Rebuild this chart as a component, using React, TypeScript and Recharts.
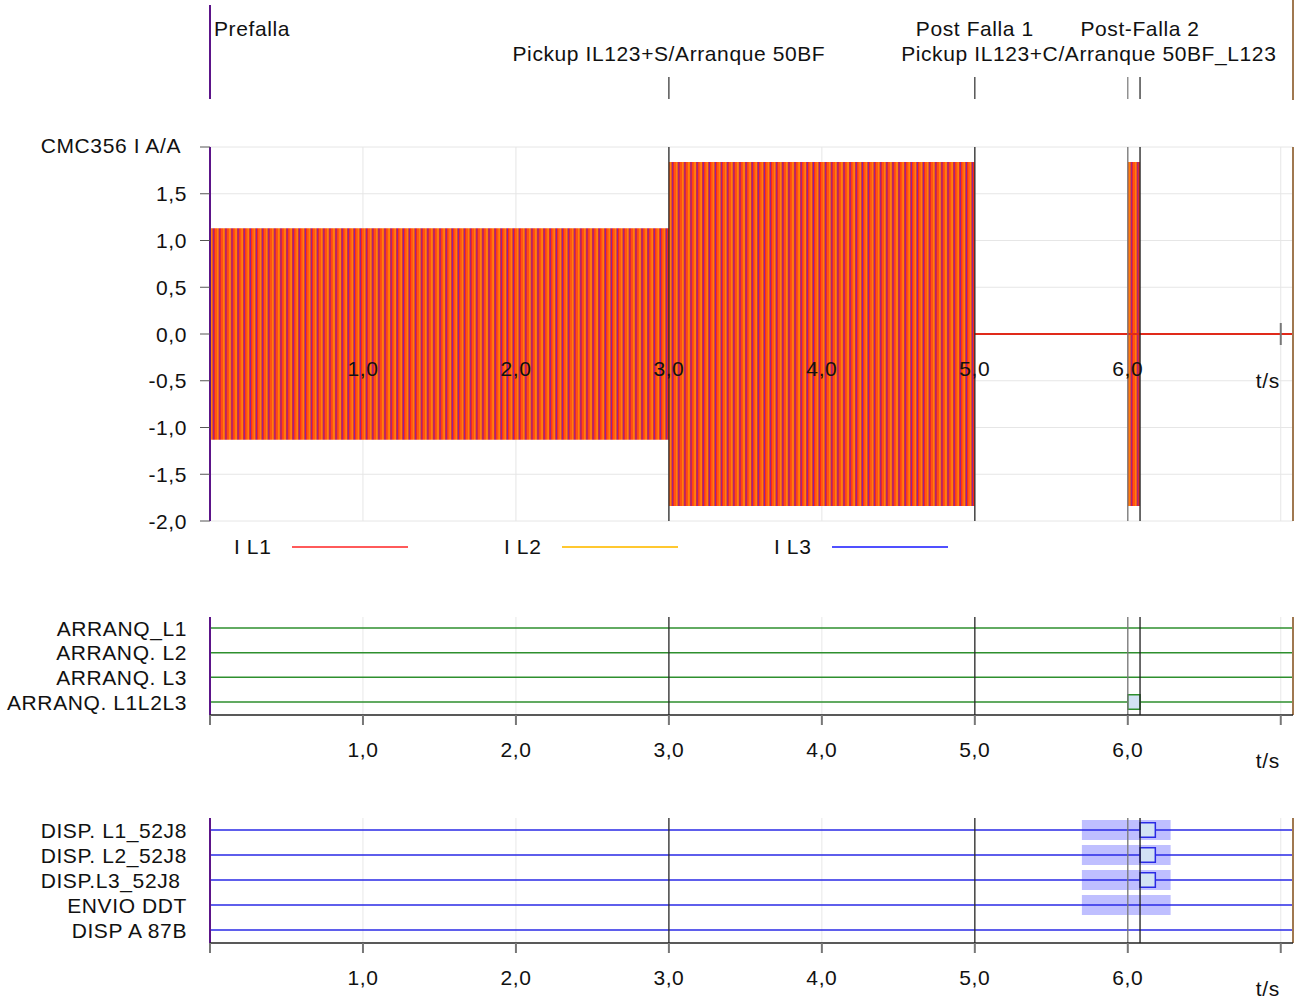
import React from 'react'
import {
  ComposedChart,
  Area,
  Line,
  XAxis,
  YAxis,
  CartesianGrid,
  ReferenceLine,
  ReferenceArea,
  ReferenceDot,
} from 'recharts'

const FONT = '"Liberation Sans", Arial, Helvetica, sans-serif'
const FS = 21
const LS = 0.6
const W = 1296

// time axis (s)
const T_MAX = 7.08
const timeTicks = [0, 1, 2, 3, 4, 5, 6, 7]

// event markers
const markerTimes = [0, 3.0, 5.0, 6.0, 6.08]
const markerTitles = [
  'Prefalla',
  'Pickup IL123+S/Arranque 50BF',
  'Post Falla 1',
  'Pickup IL123+C/Arranque 50BF_L123',
  'Post-Falla 2',
]
const markerRow = [0, 1, 0, 1, 0]

// CMC356 current: peak value (A) from each segment start
const envTimes = [0, 3.0, 5.0, 6.0, 6.08, 7.08]
const envPeak = [1.13, 1.84, 0, 1.84, 0, 0]
const postCurrent = [null, null, 0, 0, 0, 0]
const mainTicks = [-2, -1.5, -1, -0.5, 0, 0.5, 1, 1.5, 2]

const phaseNames = ['I L1', 'I L2', 'I L3']

// binary channels
const arranqNames = ['ARRANQ_L1', 'ARRANQ. L2', 'ARRANQ. L3', 'ARRANQ. L1L2L3']
const arranqPulses: number[][][] = [[], [], [], [[6.0, 6.08]]]

const dispNames = ['DISP. L1_52J8', 'DISP. L2_52J8', 'DISP.L3_52J8\u00a0', 'ENVIO DDT', 'DISP A 87B']
const dispPulses: number[][][] = [[[6.08, 6.18]], [[6.08, 6.18]], [[6.08, 6.18]], [], []]
const dispWindows: number[][][] = [[[5.7, 6.28]], [[5.7, 6.28]], [[5.7, 6.28]], [[5.7, 6.28]], []]

const PURPLE = '#5c1489'
const BROWN = '#a07850'
const markerColor = [PURPLE, '#2b2b2b', '#2b2b2b', '#777777', '#1e1e1e']
const phaseColor = ['#ff5a5a', '#ffc830', '#5050ff']
const phaseLine = ['#e02a1a', '#ffc400', '#3030ff']

const fmt = (v: number) => v.toFixed(1).replace('.', ',')

const txt = { fontSize: FS, fill: '#111', fontFamily: FONT, letterSpacing: LS }

function HeaderRow() {
  // header row: y 0..1 spans the 100 px strip, markers sit at its bottom
  const data = markerTimes.map(t => ({ t, base: 0 }))
  const dx = [4, 0, 0, -39, 0]
  return (
    <ComposedChart width={W} height={100} data={data} margin={{ top: 0, right: 3, bottom: 0, left: 210 }}>
      <XAxis dataKey="t" type="number" domain={[0, T_MAX]} hide />
      <YAxis type="number" domain={[0, 1]} hide />
      <Line dataKey="base" stroke="none" dot={false} isAnimationActive={false} />
      {markerTimes.map((t, i) => (
        <ReferenceLine
          key={'m' + i}
          segment={[{ x: t, y: i === 0 ? 0.95 : 0.23 }, { x: t, y: 0.01 }]}
          stroke={markerColor[i]}
          strokeWidth={i === 0 ? 2 : 1.2}
        />
      ))}
      <ReferenceLine x={T_MAX} stroke={BROWN} strokeWidth={2} />
      {markerTimes.map((t, i) => (
        <ReferenceDot
          key={'l' + i}
          x={t}
          y={markerRow[i] === 0 ? 0.72 : 0.47}
          r={0}
          shape={(p: any) => (
            <text
              x={p.cx + dx[i]}
              y={p.cy}
              textAnchor={i === 0 ? 'start' : 'middle'}
              dominantBaseline="central"
              {...txt}
            >
              {markerTitles[i]}
            </text>
          )}
        />
      ))}
    </ComposedChart>
  )
}

function MainYTick(props: any) {
  const { x, y, payload } = props
  const top = payload.value === 2
  return (
    <text x={top ? x - 6 : x} y={top ? y - 2 : y} textAnchor="end" dominantBaseline="central" {...txt}>
      {top ? 'CMC356 I A/A' : fmt(payload.value)}
    </text>
  )
}

// x labels of the current panel sit on the zero line
function MainXTick(props: any) {
  const { x, y, payload } = props
  const zeroY = y - 187
  const v = payload.value
  if (v === 0) return null
  if (v === 7) {
    return (
      <g>
        <line x1={x} x2={x} y1={zeroY - 11} y2={zeroY + 11} stroke="#777" strokeWidth={2} />
        <text x={x - 13} y={zeroY + 46} textAnchor="middle" dominantBaseline="central" {...txt}>
          t/s
        </text>
      </g>
    )
  }
  return (
    <text x={x} y={zeroY + 34} textAnchor="middle" dominantBaseline="central" {...txt}>
      {fmt(v)}
    </text>
  )
}

function CurrentPanel() {
  const data = envTimes.map((t, i) => ({
    t,
    band: [-envPeak[i], envPeak[i]],
    i1: postCurrent[i],
    i2: postCurrent[i],
    i3: postCurrent[i],
  }))
  return (
    <ComposedChart width={W} height={470} data={data} margin={{ top: 47, right: 3, bottom: 29, left: 0 }}>
      <defs>
        {/* 50 Hz phases drawn as stripes, one period is ~3 px on this time scale */}
        <pattern id="phaseStripes" patternUnits="userSpaceOnUse" width={6.12} height={8}>
          <rect x={0} y={0} width={6.12} height={8} fill="#ff2614" />
          <rect x={1.2} y={0} width={1.0} height={8} fill="#ff7412" />
          <rect x={3.0} y={0} width={1.0} height={8} fill="#ffc400" />
          <rect x={5.0} y={0} width={0.9} height={8} fill="#3026ff" fillOpacity={0.75} />
        </pattern>
      </defs>
      <CartesianGrid stroke="#e6e6e6" />
      <XAxis
        dataKey="t"
        type="number"
        domain={[0, T_MAX]}
        ticks={timeTicks}
        height={20}
        axisLine={false}
        tickLine={false}
        tickSize={0}
        tickMargin={0}
        tick={<MainXTick />}
        interval={0}
      />
      <YAxis
        type="number"
        domain={[-2, 2]}
        ticks={mainTicks}
        width={210}
        axisLine={false}
        tickSize={10}
        tickMargin={13}
        tickLine={{ stroke: '#555' }}
        tick={<MainYTick />}
        interval={0}
      />
      <Line dataKey="i3" stroke={phaseLine[2]} strokeWidth={2} dot={false} isAnimationActive={false} />
      <Line dataKey="i2" stroke={phaseLine[1]} strokeWidth={2} dot={false} isAnimationActive={false} />
      <Line dataKey="i1" stroke={phaseLine[0]} strokeWidth={2} dot={false} isAnimationActive={false} />
      <Area
        dataKey="band"
        type="stepAfter"
        stroke="none"
        fill="url(#phaseStripes)"
        fillOpacity={1}
        isAnimationActive={false}
      />
      {markerTimes.map((t, i) => (
        <ReferenceLine key={'m' + i} x={t} stroke={markerColor[i]} strokeWidth={i === 0 ? 2 : 1.3} />
      ))}
      <ReferenceLine x={T_MAX} stroke={BROWN} strokeWidth={2} />
    </ComposedChart>
  )
}

function PhaseLegend() {
  return (
    <div style={{ position: 'absolute', top: 535, left: 0, width: W, height: 24, fontFamily: FONT, fontSize: FS, letterSpacing: LS, color: '#111' }}>
      {phaseNames.map((n, i) => (
        <div key={n} style={{ position: 'absolute', left: 234 + i * 270, top: 0, display: 'flex', alignItems: 'center', height: 24 }}>
          <span style={{ width: 58, whiteSpace: 'pre' }}>{n}</span>
          <svg width={118} height={4}>
            <line x1={0} x2={116} y1={2} y2={2} stroke={phaseColor[i]} strokeWidth={2} />
          </svg>
        </div>
      ))}
    </div>
  )
}

function PanelXTick(props: any) {
  const { x, y, payload } = props
  const v = payload.value
  if (v === 0) return null
  if (v === 7) {
    return (
      <text x={x - 13} y={y + 35} textAnchor="middle" dominantBaseline="central" {...txt}>
        t/s
      </text>
    )
  }
  return (
    <text x={x} y={y + 24} textAnchor="middle" dominantBaseline="central" {...txt}>
      {fmt(v)}
    </text>
  )
}

interface PanelProps {
  names: string[]
  pulses: number[][][]
  windows?: number[][][]
  color: string
  height: number
  marginTop: number
  axisHeight: number
  domain: [number, number]
}

function BinaryPanel({ names, pulses, windows, color, height, marginTop, axisHeight, domain }: PanelProps) {
  const n = names.length
  const levels = names.map((_, i) => n - i)
  // each channel is a flat trace at its own level, broken where its pulse box sits
  const times = new Set<number>([0, T_MAX])
  pulses.forEach(ps => ps.forEach(p => {
    times.add(p[0])
    times.add((p[0] + p[1]) / 2)
    times.add(p[1])
  }))
  const data = Array.from(times).sort((a, b) => a - b).map(t => {
    const row: any = { t }
    levels.forEach((lv, i) => {
      const inside = pulses[i].some(p => t > p[0] && t < p[1])
      row['c' + i] = inside ? null : lv
    })
    return row
  })
  const NameTick = (props: any) => {
    const { x, y, payload } = props
    return (
      <text x={x} y={y} textAnchor="end" dominantBaseline="central" {...txt}>
        {names[n - payload.value] ?? ''}
      </text>
    )
  }
  return (
    <ComposedChart width={W} height={height} data={data} margin={{ top: marginTop, right: 3, bottom: 0, left: 0 }}>
      <CartesianGrid stroke="#e8e8e8" horizontal={false} />
      <XAxis
        dataKey="t"
        type="number"
        domain={[0, T_MAX]}
        ticks={timeTicks}
        height={axisHeight}
        axisLine={{ stroke: '#222', strokeWidth: 1.5 }}
        tickLine={{ stroke: '#777', strokeWidth: 2 }}
        tickSize={10}
        tickMargin={0}
        tick={<PanelXTick />}
        interval={0}
      />
      <YAxis
        type="number"
        domain={domain}
        ticks={levels}
        width={210}
        axisLine={false}
        tickLine={false}
        tickSize={0}
        tickMargin={23}
        interval={0}
        allowDataOverflow
        tick={<NameTick />}
      />
      {windows &&
        windows.map((ws, i) =>
          ws.map((w, j) => (
            <ReferenceArea
              key={'w' + i + '-' + j}
              x1={w[0]}
              x2={w[1]}
              y1={levels[i] - 0.4}
              y2={levels[i] + 0.4}
              fill="#b4b4ff"
              fillOpacity={0.85}
              stroke="none"
            />
          ))
        )}
      {pulses.map((ps, i) =>
        ps.map((p, j) => (
          <ReferenceArea
            key={'p' + i + '-' + j}
            x1={p[0]}
            x2={p[1]}
            y1={levels[i] - 0.29}
            y2={levels[i] + 0.29}
            fill="#d2e2f4"
            fillOpacity={1}
            stroke={color}
            strokeWidth={1.5}
          />
        ))
      )}
      {levels.map((lv, i) => (
        <Line
          key={'c' + i}
          dataKey={'c' + i}
          stroke={color}
          strokeWidth={1.5}
          dot={false}
          isAnimationActive={false}
        />
      ))}
      {markerTimes.map((t, i) => (
        <ReferenceLine key={'m' + i} x={t} stroke={markerColor[i]} strokeWidth={i === 0 ? 2 : 1.3} />
      ))}
      <ReferenceLine x={T_MAX} stroke={BROWN} strokeWidth={2} />
    </ComposedChart>
  )
}

export default function App() {
  return (
    <div style={{ position: 'absolute', left: 0, top: 0, width: W, height: 1000, background: '#fff', fontFamily: FONT }}>
      <div style={{ position: 'absolute', left: 0, top: 0 }}>
        <HeaderRow />
      </div>
      <div style={{ position: 'absolute', left: 0, top: 100 }}>
        <CurrentPanel />
      </div>
      <PhaseLegend />
      <div style={{ position: 'absolute', left: 0, top: 600 }}>
        <BinaryPanel
          names={arranqNames}
          pulses={arranqPulses}
          color="#2e8f2e"
          height={170}
          marginTop={17}
          axisHeight={55}
          domain={[0.473, 4.446]}
        />
      </div>
      <div style={{ position: 'absolute', left: 0, top: 800 }}>
        <BinaryPanel
          names={dispNames}
          pulses={dispPulses}
          windows={dispWindows}
          color="#2a2ae6"
          height={200}
          marginTop={18}
          axisHeight={57}
          domain={[0.48, 5.48]}
        />
      </div>
    </div>
  )
}
